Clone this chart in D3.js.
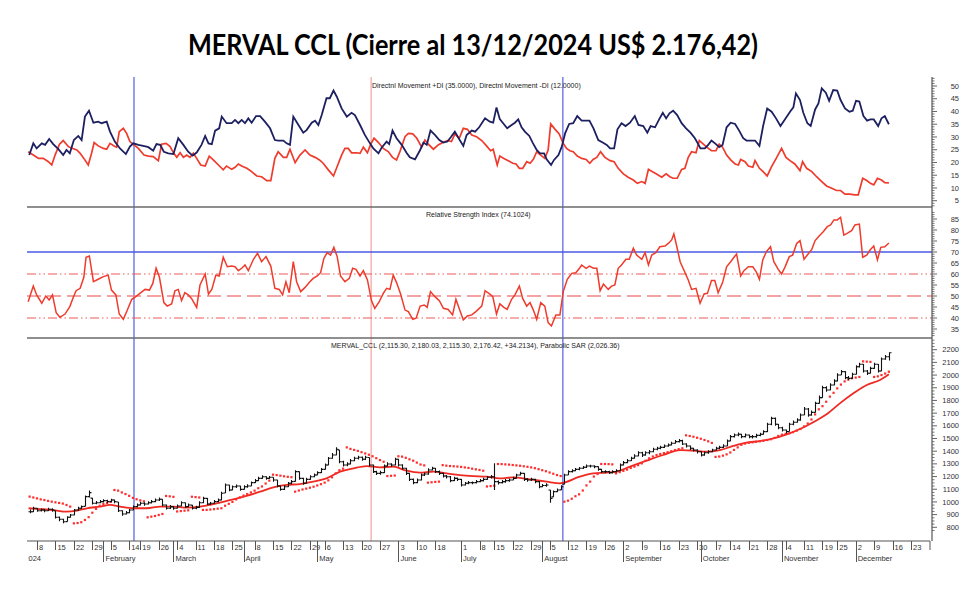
<!DOCTYPE html>
<html><head><meta charset="utf-8">
<script src="https://cdn.jsdelivr.net/npm/d3@7"></script>
<style>body{margin:0;background:#fff}svg{display:block;font-family:"Liberation Sans",Arial,sans-serif}</style>
</head><body><svg id="c" width="980" height="590"></svg>
<script>
// ---------- calendar (Argentine market holidays 2024) ----------
const holidays = ["2024-01-01","2024-02-12","2024-02-13","2024-03-28","2024-03-29","2024-04-01","2024-04-02","2024-05-01","2024-06-17","2024-06-20","2024-06-21","2024-07-09","2024-10-11","2024-11-18"];
const weekTickDates = ["2024-01-08","2024-01-15","2024-01-22","2024-01-29","2024-02-05","2024-02-14","2024-02-19","2024-02-26","2024-03-04","2024-03-11","2024-03-18","2024-03-25","2024-04-08","2024-04-15","2024-04-22","2024-04-29","2024-05-06","2024-05-13","2024-05-20","2024-05-27","2024-06-03","2024-06-10","2024-06-18","2024-07-01","2024-07-08","2024-07-15","2024-07-22","2024-07-29","2024-08-05","2024-08-12","2024-08-19","2024-08-26","2024-09-02","2024-09-09","2024-09-16","2024-09-23","2024-09-30","2024-10-07","2024-10-14","2024-10-21","2024-10-28","2024-11-04","2024-11-11","2024-11-19","2024-11-25","2024-12-02","2024-12-09","2024-12-16","2024-12-23"];
const monthTickDates = ["2024-01-02","2024-02-01","2024-03-01","2024-04-03","2024-05-02","2024-06-03","2024-07-01","2024-08-01","2024-09-02","2024-10-01","2024-11-01","2024-12-02"];
const monthLabels = ["2024","February","March","April","May","June","July","August","September","October","November","December"];

// ---------- titles ----------
const chartTitle = "MERVAL CCL (Cierre al 13/12/2024 US$ 2.176,42)";
const dmiTitle = "Directnl Movement +DI (35.0000), Directnl Movement -DI (12.0000)";
const rsiTitle = "Relative Strength Index (74.1024)";
const priceTitle = "MERVAL_CCL (2,115.30, 2,180.03, 2,115.30, 2,176.42, +34.2134), Parabolic SAR (2,026.36)";

// ---------- axis ticks ----------
const dmiTicks = [5,10,15,20,25,30,35,40,45,50];
const rsiTicks = [35,40,45,50,55,60,65,70,75,80,85];
const priceTicks = [800,900,1000,1100,1200,1300,1400,1500,1600,1700,1800,1900,2000,2100,2200];
const rsiLevels = [40,50,60,70];

// ---------- marker lines (session position) ----------
const markerSession = [30.3, 94.6, 146.6];
const markerColor = ["#4150e0","#f29a9a","#4150e0"];

// ---------- price bars (daily, from 2024-01-04) ----------
const priceStart = "2024-01-04";
const priceClose = [923,950,931,936,931,942,936,879,863,844,
879,897,936,950,963,1042,1073,989,994,1002,
1010,1002,1015,1002,931,905,915,936,963,976,
989,984,994,1002,1015,1021,976,950,963,950,
968,994,963,976,950,957,994,1028,984,989,
1002,1015,1068,1134,1094,1120,1126,1099,1120,1126,
1152,1168,1186,1199,1186,1194,1173,1126,1099,1120,
1147,1160,1239,1186,1147,1178,1199,1212,1231,1257,
1291,1344,1370,1415,1317,1291,1299,1325,1344,1352,
1336,1352,1291,1239,1225,1231,1283,1299,1291,1336,
1291,1265,1225,1178,1152,1173,1212,1220,1252,1265,
1239,1225,1204,1199,1168,1186,1178,1134,1147,1152,
1152,1160,1168,1178,1194,1199,1160,1152,1160,1168,
1173,1186,1212,1225,1178,1173,1178,1160,1120,1130,
1134,1028,1081,1094,1120,1212,1239,1246,1257,1265,
1273,1283,1283,1278,1257,1239,1239,1231,1239,1246,
1291,1310,1325,1344,1362,1388,1370,1388,1396,1415,
1423,1430,1441,1449,1462,1475,1483,1457,1441,1423,
1409,1396,1370,1388,1396,1409,1423,1430,1441,1480,
1515,1528,1533,1515,1528,1515,1515,1525,1533,1554,
1612,1659,1612,1585,1567,1554,1612,1628,1646,1685,
1733,1685,1706,1777,1822,1901,1882,1922,1953,2001,
2027,1980,1974,2006,2066,2085,2032,2014,2053,2085,
2032,2127,2145,2176.42];
const priceHigh = [940,962,952,948,944,955,950,930,885,868,
888,905,945,962,972,1050,1090,1030,1008,1015,
1022,1018,1025,1020,1000,935,928,945,972,988,
1002,998,1005,1015,1028,1035,1022,980,975,968,
980,1005,995,988,975,970,1005,1040,1030,1000,
1015,1028,1080,1145,1135,1130,1138,1128,1132,1140,
1162,1180,1198,1210,1202,1205,1195,1175,1130,1132,
1158,1172,1250,1240,1190,1190,1210,1225,1242,1268,
1302,1355,1385,1432,1410,1325,1312,1338,1356,1365,
1358,1365,1350,1295,1245,1245,1295,1312,1305,1348,
1340,1298,1270,1230,1185,1185,1225,1232,1265,1278,
1268,1248,1230,1212,1205,1198,1192,1180,1158,1165,
1162,1172,1180,1190,1205,1212,1304,1168,1172,1180,
1185,1198,1222,1238,1228,1188,1190,1182,1165,1142,
1148,1094,1090,1105,1132,1222,1250,1258,1268,1276,
1284,1295,1294,1290,1280,1262,1250,1245,1250,1258,
1302,1322,1338,1356,1375,1400,1395,1400,1410,1428,
1435,1442,1452,1460,1475,1488,1496,1490,1462,1445,
1428,1415,1400,1398,1408,1420,1435,1442,1455,1492,
1528,1540,1548,1538,1540,1532,1528,1538,1545,1566,
1625,1672,1665,1615,1592,1570,1625,1642,1660,1698,
1748,1740,1720,1790,1838,1915,1912,1936,1968,2015,
2040,2030,1992,2018,2078,2098,2088,2040,2065,2098,
2088,2138,2158,2180.03];
const priceLow = [910,920,922,925,918,928,922,870,848,832,
845,875,895,930,945,965,1035,980,982,990,
995,990,1000,990,920,892,900,910,935,958,
972,970,980,988,998,1008,965,940,945,938,
948,965,955,960,940,942,955,990,975,975,
985,998,1012,1070,1085,1092,1110,1088,1098,1112,
1125,1150,1165,1182,1175,1180,1160,1115,1088,1095,
1118,1140,1162,1175,1135,1145,1175,1195,1210,1228,
1255,1290,1340,1368,1305,1280,1282,1295,1320,1335,
1325,1330,1280,1228,1212,1215,1228,1280,1278,1288,
1280,1255,1212,1165,1140,1148,1168,1205,1215,1248,
1228,1212,1192,1185,1155,1165,1165,1122,1130,1140,
1140,1145,1155,1162,1175,1185,1094,1138,1145,1152,
1160,1170,1185,1208,1165,1160,1165,1148,1108,1115,
1120,994,1040,1078,1095,1140,1212,1232,1242,1250,
1260,1268,1272,1265,1245,1228,1226,1220,1225,1232,
1245,1288,1305,1322,1340,1360,1355,1365,1375,1392,
1408,1415,1425,1435,1445,1458,1468,1448,1430,1410,
1398,1382,1358,1365,1380,1392,1405,1415,1425,1438,
1478,1508,1518,1502,1508,1502,1500,1505,1518,1530,
1552,1605,1600,1572,1555,1540,1555,1605,1625,1640,
1685,1672,1680,1705,1775,1822,1868,1880,1920,1950,
2000,1968,1960,1972,2005,2060,2020,2000,2012,2050,
2020,2030,2120,2115.30];
const sarValue = [1042,1035,1028,1020,1015,1008,1002,997,992,987,
976,963,831,834,840,858,880,915,945,970,
984,992,1000,1094,1089,1075,1062,1048,1032,1021,
1012,1005,879,884,889,897,905,1047,1044,1040,
925,928,931,934,1041,1038,1035,937,937,940,
943,947,950,970,985,1000,1020,1036,1050,1062,
1075,1089,1108,1122,1145,1168,1215,1212,1207,1202,
1198,1195,1081,1090,1098,1105,1112,1120,1130,1140,
1152,1170,1194,1225,1250,1262,1430,1418,1410,1402,
1392,1382,1372,1360,1345,1330,1317,1204,1206,1208,
1360,1357,1348,1336,1325,1310,1295,1288,1152,1155,
1158,1160,1290,1286,1283,1281,1279,1276,1272,1268,
1262,1257,1252,1246,1122,1125,1128,1299,1298,1296,
1294,1291,1288,1285,1281,1277,1272,1266,1258,1250,
1242,1232,1222,1212,1204,1002,1010,1025,1045,1060,
1090,1130,1160,1200,1220,1299,1299,1298,1296,1225,
1235,1245,1255,1268,1278,1290,1304,1325,1344,1358,
1370,1378,1385,1392,1400,1409,1416,1423,1525,1520,
1514,1506,1498,1488,1478,1465,1355,1358,1365,1375,
1390,1410,1430,1450,1460,1466,1470,1474,1478,1482,
1488,1494,1505,1520,1530,1536,1541,1550,1562,1575,
1595,1618,1650,1690,1730,1755,1790,1830,1860,1895,
1925,1950,1965,1975,1980,1985,2108,2106,2104,1985,
1990,2000,2012,2026.36];

// ---------- moving average (read points, session position) ----------
const maAt = [1.7,4.8,8.4,12.0,14.8,17.5,21.1,23.8,26.5,30.1,33.7,37.4,41.0,44.6,48.2,50.9,53.6,57.2,60.8,64.5,68.1,71.7,75.3,78.9,82.5,86.2,89.8,93.4,97.0,100.6,104.2,107.8,111.5,115.1,118.7,122.3,125.9,129.5,133.2,137.7,142.2,145.8,151.2,154.9,158.5,161.2,164.8,169.3,173.8,178.4,182.0,185.6,189.2,192.8,196.4,200.0,203.7,207.3,210.9,214.5,218.1,221.7,225.4,229.0,232.6,235.0];
const maValue = [950,944,936,923,931,950,963,976,963,950,950,963,963,955,963,976,994,1021,1047,1081,1115,1134,1141,1160,1186,1239,1265,1283,1273,1278,1246,1231,1239,1225,1212,1204,1199,1186,1194,1178,1160,1147,1199,1225,1231,1239,1278,1325,1370,1409,1404,1396,1409,1441,1467,1480,1501,1533,1575,1628,1691,1777,1856,1922,1961,2006];

// ---------- +DI ----------
const diPlusAt = [1.9,3.0,3.9,5.3,6.2,7.3,8.4,9.8,11.1,12.0,12.9,14.0,15.2,16.1,17.0,18.1,19.3,20.6,21.5,22.9,23.8,25.1,26.5,28.1,29.2,30.1,31.5,32.8,34.2,35.5,36.4,37.4,38.4,39.6,41.0,42.3,43.7,45.0,46.2,47.3,48.6,49.6,50.5,51.4,52.3,53.4,54.1,55.4,56.8,57.7,58.6,59.5,60.4,61.3,62.2,63.4,64.5,65.8,67.2,68.5,69.4,70.8,71.7,72.6,73.5,74.9,76.2,77.1,78.5,79.4,80.3,81.2,82.5,83.4,84.4,85.3,86.6,88.0,89.3,90.2,91.6,92.9,94.3,95.2,96.6,97.5,98.8,99.5,100.4,101.5,102.9,104.2,105.1,106.5,107.9,108.8,109.7,110.7,111.9,113.1,114.2,115.3,116.2,117.3,118.5,119.6,120.5,121.9,122.8,123.9,125.5,126.8,127.7,128.6,129.5,
130.4,131.5,132.7,133.6,134.5,135.4,136.3,137.5,138.4,139.5,140.4,141.5,142.2,143.4,144.2,145.4,146.3,147.2,148.3,149.4,150.5,151.7,152.9,153.8,154.9,156.2,157.4,158.5,159.4,160.5,161.4,162.5,163.6,164.8,166.1,167.1,168.4,169.5,170.4,171.6,172.7,173.7,174.6,175.5,176.5,177.6,178.8,180.0,181.2,182.4,183.3,183.9,185.1,186.0,186.9,188.1,189.0,189.9,191.0,192.1,193.3,194.4,195.5,196.4,197.8,198.7,199.9,200.9,202.0,203.2,204.4,205.6,206.8,208.2,209.1,209.8,210.9,211.8,212.9,213.8,215.0,215.9,216.8,217.9,218.8,219.9,221.0,221.9,223.1,224.3,225.2,226.1,227.0,228.1,229.1,230.0,230.9,232.1,233.0,233.9,235.0];
const diPlus = [22.9,27.5,25.5,27.5,26.9,29.2,27.2,25.2,22.9,24.9,23.6,28.8,30.4,28.8,38.0,40.3,35.6,36.0,35.4,36.0,32.1,28.2,25.5,23.3,26.2,27.5,26.9,26.5,26.0,24.6,27.2,26.9,24.2,23.6,23.3,29.5,26.9,24.2,22.7,23.9,26.9,30.4,27.5,27.2,32.5,33.4,38.0,35.4,35.4,36.7,35.4,36.7,35.4,37.3,35.6,38.2,38.2,36.0,33.4,28.8,28.6,28.6,27.5,26.9,38.0,34.7,31.7,32.7,35.6,36.4,34.7,38.6,45.2,45.2,48.2,45.8,41.2,38.0,39.5,38.6,34.7,30.8,27.5,25.5,23.6,25.9,28.2,27.2,32.5,29.5,26.9,23.8,22.0,21.2,24.9,27.8,26.9,32.5,30.8,28.8,27.8,28.2,29.9,32.1,29.1,26.5,30.8,32.5,32.1,33.8,37.3,36.0,35.6,41.6,37.0,
35.4,33.4,34.7,35.6,36.9,33.8,32.1,30.4,27.8,24.9,23.6,23.6,21.2,19.0,21.0,22.9,26.2,31.4,35.1,35.4,38.2,36.4,36.4,36.4,33.4,28.8,27.8,26.9,25.5,25.5,33.0,35.4,34.3,35.6,38.2,34.7,34.3,31.7,34.3,33.8,36.9,39.5,37.3,39.3,40.3,38.6,35.4,33.4,31.7,29.5,27.2,25.5,25.5,26.9,28.6,27.2,26.0,26.9,33.8,35.6,35.1,32.5,29.5,28.6,28.6,28.6,26.5,34.3,41.2,39.9,37.3,34.3,36.9,39.9,41.6,47.1,44.5,39.5,35.4,34.3,40.8,43.2,49.1,47.4,44.2,48.4,48.2,44.5,41.2,39.9,40.3,44.2,43.9,38.2,36.4,36.9,36.9,34.3,37.3,38.2,35.0];

// ---------- -DI ----------
const diMinusAt = [1.6,3.0,4.4,5.7,7.1,8.0,8.9,10.1,11.1,12.5,13.7,14.8,15.7,16.7,17.9,18.8,19.5,20.6,22.0,22.9,23.8,24.9,25.6,26.3,27.4,28.3,29.2,30.3,31.5,33.0,34.2,35.5,36.9,37.8,39.0,40.1,41.0,41.9,42.8,43.7,44.6,45.5,46.4,47.3,48.4,49.6,50.7,51.8,53.2,54.5,55.4,56.8,57.7,58.6,59.5,60.9,62.2,63.6,64.9,66.3,67.4,68.5,69.4,70.8,71.7,72.6,74.0,75.3,76.7,78.0,79.4,80.6,81.6,83.0,84.4,85.4,86.6,87.5,88.4,89.3,90.7,91.6,92.5,93.6,94.5,95.4,96.6,97.9,99.3,100.4,101.5,102.4,103.8,104.7,105.9,107.0,108.3,109.2,110.1,111.5,112.8,114.0,115.3,116.4,117.3,118.5,119.6,120.7,121.9,123.2,124.6,125.9,127.0,127.7,128.8,
129.5,130.6,131.8,133.0,133.9,134.8,135.7,136.8,137.7,138.6,139.5,140.6,141.7,142.6,143.3,144.5,145.6,146.7,147.6,148.5,149.4,150.5,151.7,152.9,153.9,154.8,155.8,156.8,158.0,159.4,160.5,161.6,163.0,164.3,165.7,166.8,168.0,168.9,169.8,170.9,172.0,173.4,174.6,175.6,176.5,177.6,178.8,179.7,180.6,181.5,182.7,183.6,184.7,185.6,186.9,188.1,189.0,189.9,191.0,192.1,193.3,194.2,194.8,196.0,196.9,198.1,198.7,199.9,200.9,202.0,203.2,204.6,205.9,207.1,208.2,209.5,210.9,211.6,212.7,214.1,215.4,216.8,218.1,219.5,220.8,221.9,223.1,224.4,225.8,226.7,227.9,229.0,230.0,230.9,231.9,233.0,233.9,235.0];
const diMinus = [24.2,22.9,21.6,21.6,20.3,19.0,22.9,27.2,28.6,26.2,25.5,24.9,23.6,21.6,19.0,23.6,27.8,26.5,25.5,25.2,27.5,26.5,26.0,32.1,33.4,31.4,28.2,26.9,25.5,22.9,22.5,22.3,20.7,27.2,27.5,26.2,23.8,22.0,23.8,22.0,22.9,22.0,23.6,21.6,19.0,18.6,22.5,21.0,19.0,17.1,18.6,17.3,18.1,19.4,18.6,17.7,16.4,14.7,14.4,12.9,12.9,21.6,24.2,22.0,22.0,25.2,19.9,22.9,24.9,22.9,22.0,21.0,19.7,17.1,14.7,18.4,22.9,25.5,25.5,23.8,23.8,23.6,26.0,23.8,27.2,29.5,27.8,25.5,24.2,22.0,21.0,24.2,30.1,31.4,31.2,29.5,26.0,28.8,27.2,25.2,26.9,27.8,28.6,28.2,31.2,29.5,33.4,33.0,30.8,30.1,28.6,26.5,24.6,25.2,19.0,
22.5,21.6,20.7,19.7,19.4,17.7,17.7,20.3,19.7,21.2,24.2,22.9,21.6,24.9,35.1,33.0,31.2,27.5,25.5,24.6,24.2,22.5,21.6,21.2,19.7,21.2,22.0,24.2,22.0,20.7,20.3,17.7,15.5,14.2,13.1,11.8,12.5,11.8,17.3,16.4,15.5,14.2,15.5,14.4,13.8,13.8,17.3,17.7,22.0,24.2,23.8,28.6,27.2,26.0,24.6,24.6,27.2,26.0,22.9,21.0,19.4,19.0,21.2,20.3,18.6,18.1,20.7,17.7,16.4,14.7,18.4,22.0,25.5,22.0,20.7,19.4,16.8,20.3,17.7,16.4,14.4,12.5,10.8,9.9,9.0,9.0,7.6,7.6,7.3,7.3,13.8,12.9,11.8,11.2,13.8,13.1,12.1,12.0];

// ---------- RSI ----------
const rsiAt = [1.6,3.0,3.9,5.3,6.4,7.3,8.2,9.2,10.2,11.6,12.9,13.9,14.6,15.7,16.7,17.3,18.2,19.3,20.6,22.0,23.3,24.2,25.4,26.3,27.4,28.5,29.7,30.8,31.9,33.3,34.5,35.4,36.3,37.2,38.4,39.3,40.5,41.4,42.3,43.2,44.1,45.0,45.9,47.3,48.2,49.6,50.5,51.4,52.5,53.4,54.5,55.6,56.8,57.7,58.6,59.5,60.4,61.3,62.7,63.8,64.9,66.1,67.4,68.5,69.7,70.6,71.5,72.4,73.5,74.4,75.5,76.7,77.8,78.9,80.0,80.9,81.8,82.7,83.6,84.5,85.4,86.3,87.5,88.7,89.6,90.5,91.6,92.5,93.6,94.7,95.6,96.8,97.9,98.8,99.7,100.6,101.5,102.6,103.8,104.7,105.9,106.8,107.9,109.0,109.8,110.7,111.9,113.1,114.2,115.5,116.7,117.6,118.7,119.6,120.7,121.9,123.0,124.6,125.5,126.8,127.6,128.6,129.5,
130.6,131.5,132.7,133.6,134.8,135.7,136.8,137.7,138.6,139.5,140.6,141.7,142.6,143.5,144.7,145.8,146.7,147.8,149.0,150.1,151.1,151.7,152.9,153.8,154.9,155.8,156.7,157.6,158.9,159.8,160.7,161.6,162.5,163.7,164.6,165.7,166.6,168.0,168.9,169.8,170.7,171.8,172.9,174.3,175.2,176.1,176.7,177.4,178.4,179.4,180.6,181.5,182.7,183.8,184.9,185.8,186.9,187.8,188.7,189.9,191.0,192.1,193.0,193.7,194.8,195.7,196.9,198.1,199.0,199.9,200.8,201.8,202.9,203.8,205.0,205.9,206.8,208.0,208.9,210.0,210.9,212.0,213.1,214.1,215.0,216.1,217.2,218.3,219.2,220.1,221.0,221.9,222.8,224.0,224.9,225.8,227.0,227.9,229.0,229.9,230.9,231.9,232.8,233.9,235.0];
const rsiValue = [47.4,54.5,50.5,46.7,50.0,48.2,50.5,42.4,40.3,41.8,45.2,49.7,52.4,53.5,58.5,67.6,68.2,56.5,57.6,58.8,59.5,52.7,50.5,41.8,39.4,43.6,48.5,49.7,51.2,53.0,52.7,55.7,62.6,58.5,47.0,45.4,46.4,52.4,53.0,47.9,51.5,50.5,48.9,44.8,55.0,60.0,50.9,53.0,59.5,59.1,67.6,63.3,63.6,63.3,61.5,62.6,64.1,61.5,66.7,69.4,65.6,67.9,63.6,53.5,53.0,50.5,56.5,51.5,65.6,56.5,52.0,53.9,56.1,58.0,59.1,60.6,67.1,69.7,68.6,72.1,67.9,59.1,56.5,58.0,62.6,62.1,59.1,61.5,57.3,47.9,44.4,47.4,51.2,53.5,53.0,59.5,56.1,50.9,43.6,42.9,39.4,39.9,45.4,45.9,44.8,52.0,49.7,47.9,44.4,43.9,41.4,48.5,43.3,39.1,40.9,41.4,42.9,45.4,52.4,50.9,49.7,41.8,46.4,
44.8,43.9,48.5,50.5,54.5,48.9,45.4,47.0,43.6,39.4,47.0,45.4,37.9,36.4,41.4,41.4,52.0,57.6,60.3,60.6,62.6,64.1,62.6,63.6,62.6,62.6,52.4,55.4,53.0,54.5,55.0,62.6,64.1,66.7,66.7,71.7,68.6,66.7,69.7,64.1,68.6,69.7,72.4,72.7,73.9,75.5,78.2,73.2,65.6,61.8,57.3,53.0,53.5,46.7,50.9,51.2,57.0,57.0,51.5,56.1,63.3,65.6,67.6,69.1,59.1,61.5,63.3,63.3,61.1,57.6,66.4,70.2,72.4,65.6,62.1,60.0,63.0,67.9,68.6,73.9,75.2,66.7,69.1,71.2,75.2,77.3,79.2,81.5,82.3,84.6,84.6,85.8,77.7,78.8,79.7,82.3,82.7,67.6,68.6,70.9,72.7,66.4,72.1,72.4,74.1];

// ================= drawing =================
const tradingDays = [];
for (let d = new Date(Date.UTC(2024,0,2)); d <= new Date(Date.UTC(2024,11,31)); d.setUTCDate(d.getUTCDate()+1)) {
  const wd = d.getUTCDay();
  if (wd === 0 || wd === 6) continue;
  const s = d.toISOString().slice(0,10);
  if (holidays.includes(s)) continue;
  tradingDays.push(s);
}
const sessionOf = s => tradingDays.indexOf(s);

const svg = d3.select("#c");
const plotL = 27, plotR = 932, axisY = 541;
const panel = {dmi:[76,207], rsi:[207,338], price:[338,axisY]};

const x = d3.scaleLinear().domain([sessionOf("2024-01-08"), sessionOf("2024-12-23")]).range([37, 911]);
const yDmi = d3.scaleLinear().domain([5, 50]).range([200.7, 86]);
const yRsi = d3.scaleLinear().domain([40, 70]).range([318, 252]);
const yPx  = d3.scaleLinear().domain([800, 2200]).range([527.3, 349.7]);

const defs = svg.append("defs");
Object.entries(panel).forEach(([k,[t,b]]) => {
  defs.append("clipPath").attr("id","clip-"+k).append("rect")
    .attr("x",plotL).attr("y",t).attr("width",plotR-plotL).attr("height",b-t);
});
defs.append("clipPath").attr("id","clip-axis").append("rect")
  .attr("x",28).attr("y",axisY).attr("width",plotR-28).attr("height",40);

// title
svg.append("text").attr("x",473).attr("y",55).attr("text-anchor","middle")
  .attr("textLength",570).attr("lengthAdjust","spacingAndGlyphs")
  .style("font-family","Lato, 'Liberation Sans', sans-serif").style("font-weight","bold").style("font-size","28px")
  .attr("fill","#000").text(chartTitle);

// vertical markers
svg.append("g").selectAll("line").data(markerSession).join("line")
  .attr("x1",d=>x(d)).attr("x2",d=>x(d)).attr("y1",77).attr("y2",axisY)
  .attr("stroke",(d,i)=>markerColor[i]).attr("stroke-width",1.1);

// panel separators
[panel.dmi[1], panel.rsi[1]].forEach(y => {
  svg.append("line").attr("x1",plotL).attr("x2",plotR).attr("y1",y).attr("y2",y)
    .attr("stroke","#6a6a6a").attr("stroke-width",1.6);
});

// ---- DMI panel ----
const gD = svg.append("g").attr("clip-path","url(#clip-dmi)");
const lineOf = (ys) => d3.line().x(d=>x(d[0])).y(d=>ys(d[1]));
gD.append("path").datum(d3.zip(diMinusAt, diMinus)).attr("d", lineOf(yDmi))
  .attr("fill","none").attr("stroke","#ef3b2c").attr("stroke-width",1.7);
gD.append("path").datum(d3.zip(diPlusAt, diPlus)).attr("d", lineOf(yDmi))
  .attr("fill","none").attr("stroke","#1d2060").attr("stroke-width",1.8);
svg.append("text").attr("x",372).attr("y",87.5).style("font-size","7px").attr("fill","#222").text(dmiTitle);

// ---- RSI panel ----
const gR = svg.append("g").attr("clip-path","url(#clip-rsi)");
const levelStyle = {40:["#f05a5a","9,3,1.5,3,1.5,3",1.1],50:["#f08585","14,6",1.6],60:["#f05a5a","9,3,1.5,3,1.5,3",1.1],70:["#4a58e4",null,1.5]};
rsiLevels.forEach(v => {
  const st = levelStyle[v];
  gR.append("line").attr("x1",plotL).attr("x2",plotR).attr("y1",yRsi(v)).attr("y2",yRsi(v))
    .attr("stroke",st[0]).attr("stroke-width",st[2]).attr("stroke-dasharray",st[1]);
});
gR.append("path").datum(d3.zip(rsiAt, rsiValue)).attr("d", lineOf(yRsi))
  .attr("fill","none").attr("stroke","#ef3b2c").attr("stroke-width",1.5);
svg.append("text").attr("x",426).attr("y",216.5).style("font-size","7px").attr("fill","#222").text(rsiTitle);

// ---- Price panel ----
const gP = svg.append("g").attr("clip-path","url(#clip-price)");
const s0 = sessionOf(priceStart);
gP.append("path").datum(d3.zip(maAt, maValue))
  .attr("d", d3.line().x(d=>x(d[0])).y(d=>yPx(d[1])).curve(d3.curveMonotoneX))
  .attr("fill","none").attr("stroke","#ee2a22").attr("stroke-width",1.8);
gP.append("g").selectAll("rect").data(sarValue).join("rect")
  .attr("x",(d,i)=>x(s0+i)-1.1).attr("y",d=>yPx(d)-1.1).attr("width",2.2).attr("height",2.2)
  .attr("fill","#ff2d2d");
const bars = priceClose.map((c,i)=>({s:s0+i, c, h:priceHigh[i], l:priceLow[i], o:i>0?priceClose[i-1]:c}));
gP.append("g").selectAll("path").data(bars).join("path")
  .attr("d", b => {
    const bx = Math.round(x(b.s)) + 0.5;
    const oy = yPx(Math.max(b.l, Math.min(b.h, b.o)));
    return `M${bx},${yPx(b.h)}V${yPx(b.l)}M${bx-2},${oy}H${bx}M${bx},${yPx(b.c)}H${bx+2}`;
  })
  .attr("fill","none").attr("stroke","#111").attr("stroke-width",1.1);
svg.append("text").attr("x",331).attr("y",347.5).style("font-size","7px").attr("fill","#222").text(priceTitle);

// ---- right axes ----
const axisG = svg.append("g");
axisG.append("line").attr("x1",plotR).attr("x2",plotR).attr("y1",77).attr("y2",axisY).attr("stroke","#555").attr("stroke-width",1.2);
function rightAxis(scale, major, minorStep, lo, hi) {
  const minor = d3.range(lo, hi + 0.001, minorStep).filter(v => !major.includes(v));
  axisG.append("g").selectAll("line").data(minor).join("line")
    .attr("x1",plotR).attr("x2",plotR+2.5).attr("y1",d=>scale(d)).attr("y2",d=>scale(d))
    .attr("stroke","#555").attr("stroke-width",0.8);
  axisG.append("g").selectAll("line").data(major).join("line")
    .attr("x1",plotR).attr("x2",plotR+5).attr("y1",d=>scale(d)).attr("y2",d=>scale(d))
    .attr("stroke","#555").attr("stroke-width",0.9);
  axisG.append("g").selectAll("text").data(major).join("text")
    .attr("x",959).attr("y",d=>scale(d)+2.6).attr("text-anchor","end")
    .style("font-size","7.5px").attr("fill","#333").text(d=>d);
}
rightAxis(yDmi, dmiTicks, 1, 3, 53);
rightAxis(yRsi, rsiTicks, 1, 32, 88);
rightAxis(yPx, priceTicks, 25, 775, 2275);

// ---- bottom axis ----
const bx = svg.append("g");
bx.append("line").attr("x1",plotL).attr("x2",930).attr("y1",axisY).attr("y2",axisY).attr("stroke","#555").attr("stroke-width",1.2);
bx.append("line").attr("x1",930).attr("x2",930).attr("y1",axisY).attr("y2",axisY+9).attr("stroke","#555");
const gx = bx.append("g").attr("clip-path","url(#clip-axis)");
gx.selectAll("line.w").data(weekTickDates).join("line").attr("class","w")
  .attr("x1",d=>Math.round(x(sessionOf(d)))+0.5).attr("x2",d=>Math.round(x(sessionOf(d)))+0.5)
  .attr("y1",axisY).attr("y2",axisY+9).attr("stroke","#555");
gx.selectAll("text.w").data(weekTickDates).join("text").attr("class","w")
  .attr("x",d=>x(sessionOf(d))+2).attr("y",axisY+8.5)
  .style("font-size","7.5px").attr("fill","#333").text(d=>+d.slice(8,10));
gx.selectAll("line.m").data(monthTickDates).join("line").attr("class","m")
  .attr("x1",d=>Math.round(x(sessionOf(d)))+0.5).attr("x2",d=>Math.round(x(sessionOf(d)))+0.5)
  .attr("y1",axisY).attr("y2",axisY+21).attr("stroke","#555");
gx.selectAll("text.m").data(monthTickDates).join("text").attr("class","m")
  .attr("x",(d,i)=> i===0 ? 41 : x(sessionOf(d))+2)
  .attr("text-anchor",(d,i)=> i===0 ? "end" : "start")
  .attr("y",axisY+19.5).style("font-size","7.5px").attr("fill","#333").text((d,i)=>monthLabels[i]);
</script>
</body></html>
